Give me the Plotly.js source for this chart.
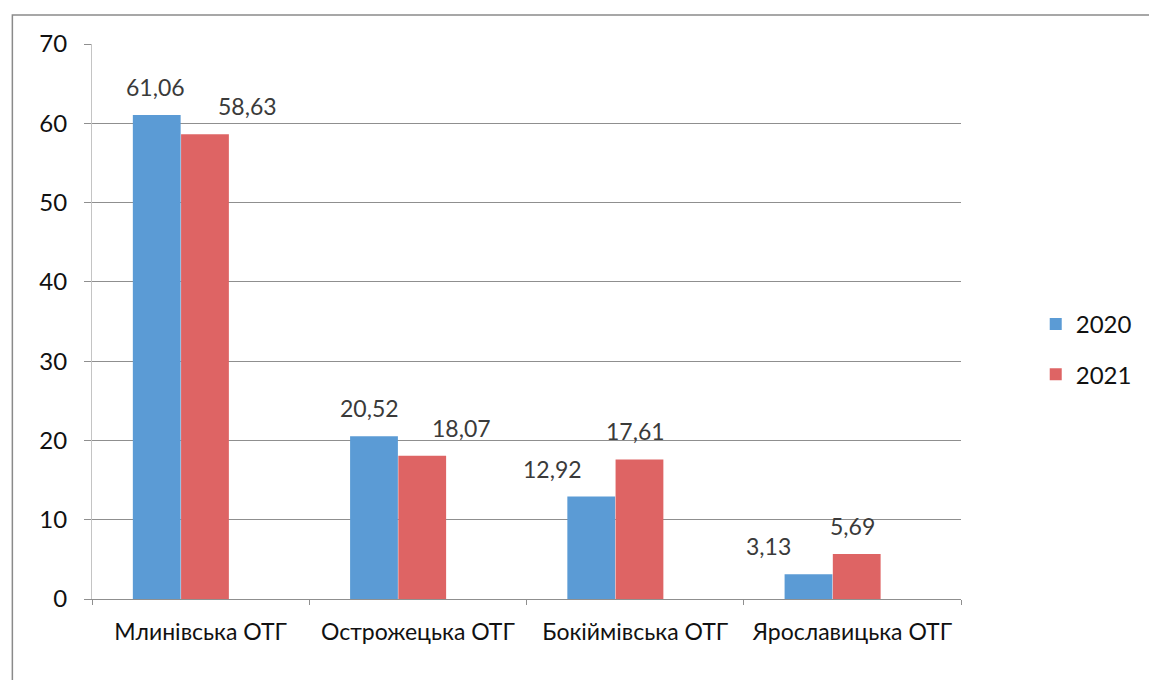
<!DOCTYPE html>
<html>
<head>
<meta charset="utf-8">
<script src="https://cdn.plot.ly/plotly-3.0.1.min.js"></script>
<style>html,body{margin:0;padding:0;background:#fff;}#chart{width:1149px;height:680px;}</style>
</head>
<body>
<div id="chart"></div>
<script>
const categories = ["Млинівська ОТГ", "Острожецька ОТГ", "Бокіймівська ОТГ", "Ярославицька ОТГ"];
const values2020 = [61.06, 20.52, 12.92, 3.13];
const values2021 = [58.63, 18.07, 17.61, 5.69];
const seriesNames = ["2020", "2021"];
const valueLabels2020 = ["61,06", "20,52", "12,92", "3,13"];
const valueLabels2021 = ["58,63", "18,07", "17,61", "5,69"];

const FONT = "Lato, 'Open Sans', sans-serif";
const BLUE = "#5b9bd5";
const RED = "#de6464";

// label pixel shifts (relative to category centre)
const shift2020 = [-45, -48, -83, -84];
const shift2021 = [47, 44, 0, 0];

const traces = [
  {type: "bar", name: seriesNames[0], x: categories, y: values2020,
   marker: {color: BLUE}, width: 0.22, offset: -0.312, legendgroup: "a", hoverinfo: "x+y"},
  {type: "bar", name: seriesNames[1], x: categories, y: values2021,
   marker: {color: RED}, width: 0.22, offset: -0.09, legendgroup: "b", hoverinfo: "x+y"}
];

const annotations = [];
categories.forEach((c, i) => {
  annotations.push({x: c, y: values2020[i], xref: "x", yref: "y", text: valueLabels2020[i],
    showarrow: false, yanchor: "bottom", xshift: shift2020[i], yshift: 12,
    font: {family: FONT, size: 23, color: "#3a3a3a"}});
  annotations.push({x: c, y: values2021[i], xref: "x", yref: "y", text: valueLabels2021[i],
    showarrow: false, yanchor: "bottom", xshift: shift2021[i], yshift: 12,
    font: {family: FONT, size: 23, color: "#3a3a3a"}});
});

const L = 92, R = 965, T = 44, B = 599;
const pw = R - L, ph = B - T;
const px = v => (v - L) / pw;
const py = v => (B - v) / ph;

const layout = {
  width: 1149, height: 680,
  margin: {l: L, r: 1149 - R, t: T, b: 680 - B, pad: 0},
  paper_bgcolor: "#ffffff", plot_bgcolor: "#ffffff",
  font: {family: FONT, size: 20, color: "#111"},
  showlegend: true,
  legend: {x: 1.086, xanchor: "left", y: py(302), yanchor: "top",
    font: {family: FONT, size: 24, color: "#111"},
    tracegroupgap: 16, traceorder: "grouped", bgcolor: "rgba(0,0,0,0)"},
  xaxis: {type: "category", range: [-0.5, 3.5], showgrid: false,
    showline: true, linecolor: "#8f8f8f", linewidth: 1,
    ticks: "outside", tickson: "boundaries", ticklen: 5, tickcolor: "#8f8f8f",
    tickfont: {family: FONT, size: 23, color: "#111"}, ticklabelstandoff: 12,
    fixedrange: true},
  yaxis: {range: [0, 70], dtick: 10, tick0: 0, showgrid: true, gridcolor: "#8f8f8f", gridwidth: 1,
    showline: true, linecolor: "#c4c4c4", linewidth: 1, zeroline: false,
    ticks: "outside", ticklen: 7, tickcolor: "#8f8f8f",
    tickfont: {family: FONT, size: 24, color: "#111"}, ticklabelstandoff: 12,
    fixedrange: true},
  bargap: 0.56,
  annotations: annotations,
  shapes: [
    {type: "rect", xref: "paper", yref: "paper", x0: px(12), x1: px(1170), y0: py(700), y1: py(15),
     line: {color: "#8a8a8a", width: 1.5}, fillcolor: "rgba(0,0,0,0)", layer: "below"}
  ]
};

Plotly.newPlot("chart", traces, layout, {displayModeBar: false, staticPlot: true});
</script>
</body>
</html>
